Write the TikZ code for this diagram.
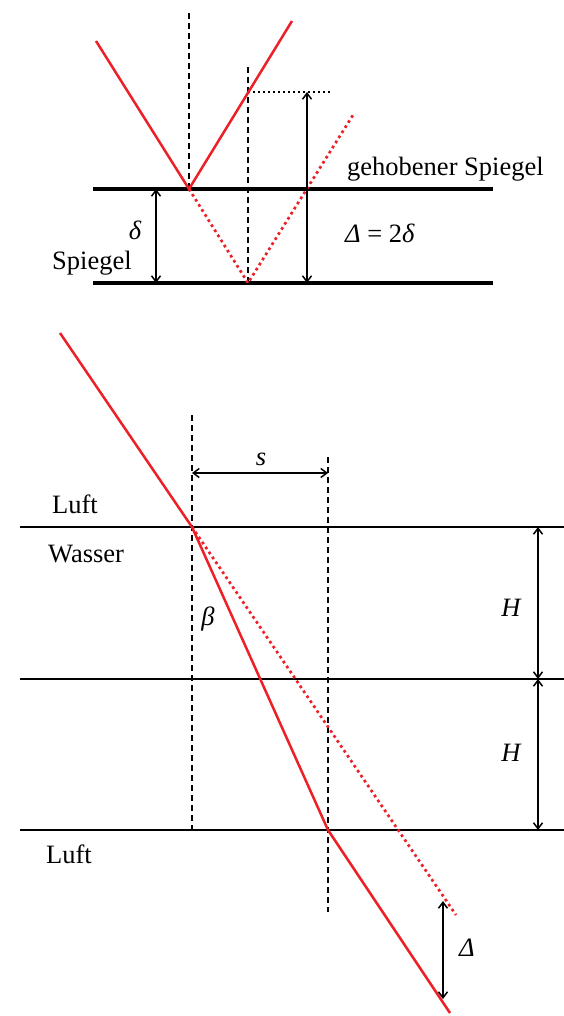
\documentclass[tikz,border=0pt]{standalone}
\usepackage{fontspec}
\setmainfont{Liberation Serif}
\usetikzlibrary{arrows.meta}
\definecolor{ray}{RGB}{236,32,38}
\begin{document}
\begin{tikzpicture}[x=1pt,y=-1pt,
  mirror/.style={line width=4.5pt},
  iface/.style={line width=2pt},
  lightray/.style={ray,line width=2.5pt},
  virtray/.style={ray,line width=2.7pt,dash pattern=on 2.7pt off 3.3pt},
  normal/.style={line width=1.6pt,dash pattern=on 6pt off 4pt},
  helpline/.style={line width=1.6pt,dash pattern=on 2pt off 3pt},
  dim/.style={line width=1.5pt,{Straight Barb[length=6pt,width=9pt]}-{Straight Barb[length=6pt,width=9pt]}},
  lab/.style={font=\fontsize{26.5}{31}\selectfont,inner sep=0pt}]
\useasboundingbox (0,0) rectangle (564,1016);
% ---------- top: mirrors ----------
\coordinate (m1l) at (93,189); \coordinate (m1r) at (493,189);
\coordinate (m2l) at (93,283); \coordinate (m2r) at (493,283);
\draw[mirror] (m1l) -- (m1r);
\draw[mirror] (m2l) -- (m2r);
\coordinate (A) at (96,41);
\coordinate (P) at (189,189);
\coordinate (B) at (292,21);
\coordinate (Q) at (248,283);
\coordinate (R) at (353,115);
\coordinate (n1t) at (189,13);
\coordinate (n2t) at (248,67);
\coordinate (hp) at (248,92);
\coordinate (hq) at (330,92);
\coordinate (Dt) at (307,92);
\coordinate (Db) at (307,283);
\coordinate (dt) at (156,189);
\coordinate (db) at (156,283);
\draw[normal] (n1t) -- (P);
\draw[normal] (n2t) -- (Q);
\draw[helpline] (hp) -- (hq);
\draw[virtray] (P) -- (Q) -- (R);
\draw[lightray] (A) -- (P) -- (B);
\draw[dim] (Dt) -- (Db);
\draw[dim] (dt) -- (db);
\node[lab,anchor=base west] (geh) at (347,176) {gehobener Spiegel};
\node[lab,anchor=base west] (spi) at (52,269) {Spiegel};
\node[lab,anchor=base] (delta) at (135,240) {\itshape δ};
\node[lab,anchor=base west] (Deq) at (345,242) {{\itshape Δ} = 2{\itshape δ}};
% ---------- bottom: plate ----------
\coordinate (l1l) at (20,527); \coordinate (l1r) at (564,527);
\coordinate (l2l) at (20,679); \coordinate (l2r) at (564,679);
\coordinate (l3l) at (20,830); \coordinate (l3r) at (564,830);
\draw[iface] (l1l) -- (l1r);
\draw[iface] (l2l) -- (l2r);
\draw[iface] (l3l) -- (l3r);
\coordinate (r0) at (60,333);
\coordinate (r1) at (192,527);
\coordinate (r2) at (328,830);
\coordinate (r3) at (450,1013);
\coordinate (rv) at (456,915);
\coordinate (u1t) at (192,415); \coordinate (u1b) at (192,830);
\coordinate (u2t) at (328,457); \coordinate (u2b) at (328,912);
\draw[normal] (u1t) -- (u1b);
\draw[normal] (u2t) -- (u2b);
\draw[virtray] (r1) -- (rv);
\draw[lightray] (r0) -- (r1) -- (r2) -- (r3);
\coordinate (sl) at (192,473); \coordinate (sr) at (328,473);
\draw[dim] (sl) -- (sr);
\coordinate (h1) at (538,527); \coordinate (h2) at (538,679); \coordinate (h3) at (538,830);
\draw[dim] (h1) -- (h2);
\draw[dim] (h2) -- (h3);
\coordinate (dlt) at (443,901); \coordinate (dlb) at (443,999);
\draw[dim] (dlt) -- (dlb);
\node[lab,anchor=base west] (luft1) at (52,513) {Luft};
\node[lab,anchor=base west] (wasser) at (48,562) {Wasser};
\node[lab,anchor=base west] (luft2) at (46,863) {Luft};
\node[lab,anchor=base] (s) at (261,465) {\itshape s};
\node[lab] (beta) at (208,619) {\itshape β};
\node[lab] (H1) at (511,608) {\itshape H};
\node[lab] (H2) at (511,753) {\itshape H};
\node[lab] (D2) at (467,948) {\itshape Δ};
\end{tikzpicture}
\end{document}
